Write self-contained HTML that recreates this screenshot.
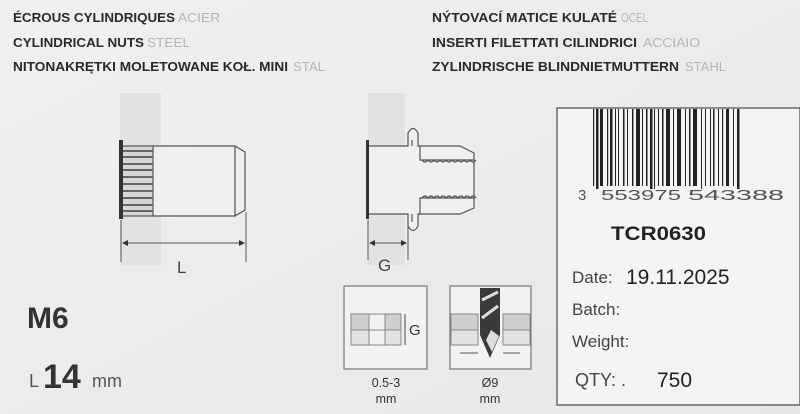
<!DOCTYPE html>
<html><head><meta charset="utf-8"><style>
html,body{margin:0;padding:0;background:#ebebeb;}
svg{display:block}
text{font-family:"Liberation Sans",sans-serif}
</style></head><body>
<svg width="800" height="414" viewBox="0 0 800 414" xmlns="http://www.w3.org/2000/svg">
<defs>
<linearGradient id="bg" x1="0" y1="0" x2="1" y2="1"><stop offset="0" stop-color="#f0f0f0"/><stop offset="1" stop-color="#e7e7e7"/></linearGradient>
</defs>
<rect width="800" height="414" fill="url(#bg)"/>
<g font-weight="bold" font-size="13" fill="#2a2a2a">
<text x="13" y="22" textLength="162" lengthAdjust="spacingAndGlyphs">ÉCROUS CYLINDRIQUES</text>
<text x="13" y="47" textLength="131" lengthAdjust="spacingAndGlyphs">CYLINDRICAL NUTS</text>
<text x="13" y="71" textLength="275" lengthAdjust="spacingAndGlyphs">NITONAKRĘTKI MOLETOWANE KOŁ. MINI</text>
<text x="432" y="22" textLength="185" lengthAdjust="spacingAndGlyphs">NÝTOVACÍ MATICE KULATÉ</text>
<text x="432" y="47" textLength="205" lengthAdjust="spacingAndGlyphs">INSERTI FILETTATI CILINDRICI</text>
<text x="432" y="71" textLength="247" lengthAdjust="spacingAndGlyphs">ZYLINDRISCHE BLINDNIETMUTTERN</text>
</g>
<g font-size="13" fill="#b5b5b5">
<text x="178" y="22" textLength="42" lengthAdjust="spacingAndGlyphs">ACIER</text>
<text x="147" y="47" textLength="43" lengthAdjust="spacingAndGlyphs">STEEL</text>
<text x="293" y="71" textLength="32" lengthAdjust="spacingAndGlyphs">STAL</text>
<text x="621" y="22" textLength="27" lengthAdjust="spacingAndGlyphs">OCEL</text>
<text x="643" y="47" textLength="57" lengthAdjust="spacingAndGlyphs">ACCIAIO</text>
<text x="685" y="71" textLength="41" lengthAdjust="spacingAndGlyphs">STAHL</text>
</g>
<rect x="120" y="93" width="41" height="172" fill="#e2e2e2"/>
<g stroke="#555" fill="none" stroke-width="1.2">
<path d="M153 146 H235 L245 152 V210 L235 216 H153" fill="#efefef"/>
<line x1="235" y1="146" x2="235" y2="216"/>
<rect x="122" y="146" width="31" height="70" fill="#d6d6d6"/>
</g>
<g stroke="#666" stroke-width="2">
<line x1="123" y1="151" x2="153" y2="151"/><line x1="123" y1="157" x2="153" y2="157"/><line x1="123" y1="164" x2="153" y2="164"/><line x1="123" y1="170" x2="153" y2="170"/><line x1="123" y1="177" x2="153" y2="177"/><line x1="123" y1="184" x2="153" y2="184"/><line x1="123" y1="191" x2="153" y2="191"/><line x1="123" y1="198" x2="153" y2="198"/><line x1="123" y1="205" x2="153" y2="205"/><line x1="123" y1="211" x2="153" y2="211"/>
</g>
<rect x="119" y="140" width="4" height="79" fill="#333"/>
<g stroke="#555" stroke-width="1">
<line x1="121" y1="220" x2="121" y2="262"/><line x1="246" y1="212" x2="246" y2="262"/>
<line x1="123" y1="243" x2="244" y2="243"/>
</g>
<path d="M122 243 l6 -3 v6z M245 243 l-6 -3 v6z" fill="#333"/>
<text x="177" y="273" font-size="17" fill="#444">L</text>
<rect x="368" y="93" width="37" height="172" fill="#e2e2e2"/>
<g stroke="#555" fill="none" stroke-width="1.2">
<path d="M368 146 H408 V133 Q413 124 418 133 V146 H460 L474 153 V208 L460 214 H418 V226 Q413 235 408 226 V214 H368" fill="#f0f0f0"/>
<path d="M412 140 V146 M412 214 V222"/>
<path d="M420 146 V160 H474 M420 214 V198 H474"/>
<path d="M422 160 q3 4 6 0 q3 4 6 0 q3 4 6 0 q3 4 6 0 q3 4 6 0 q3 4 6 0 q3 4 6 0 q3 4 6 0 q3 4 6 0"/>
<path d="M422 198 q3 -4 6 0 q3 -4 6 0 q3 -4 6 0 q3 -4 6 0 q3 -4 6 0 q3 -4 6 0 q3 -4 6 0 q3 -4 6 0 q3 -4 6 0"/>
</g>
<rect x="366" y="140" width="3" height="79" fill="#333"/>
<g stroke="#555" stroke-width="1">
<line x1="368" y1="220" x2="368" y2="260"/><line x1="408" y1="226" x2="408" y2="260"/>
<line x1="370" y1="243" x2="406" y2="243"/>
</g>
<path d="M369 243 l6 -3 v6z M407 243 l-6 -3 v6z" fill="#333"/>
<text x="378" y="271" font-size="17" fill="#444">G</text>
<text x="27" y="328" font-size="30" font-weight="bold" fill="#333">M6</text>
<text x="29" y="387" font-size="18" fill="#555">L</text>
<text x="43" y="388" font-size="34" font-weight="bold" fill="#333">14</text>
<text x="92" y="387" font-size="18" fill="#555">mm</text>
<rect x="344" y="286" width="83" height="83" fill="#f2f2f2" stroke="#777" stroke-width="1.2"/>
<g stroke="#888" stroke-width="1">
<rect x="351" y="314" width="18" height="16" fill="#cfcfcf"/><rect x="369" y="314" width="16" height="16" fill="#f2f2f2"/><rect x="385" y="314" width="16" height="16" fill="#cfcfcf"/>
<rect x="351" y="330" width="18" height="15" fill="#e2e2e2"/><rect x="369" y="330" width="16" height="15" fill="#f2f2f2"/><rect x="385" y="330" width="16" height="15" fill="#e2e2e2"/>
<line x1="405" y1="314" x2="405" y2="345" stroke="#444"/>
</g>
<text x="409" y="335" font-size="15" fill="#333">G</text>
<rect x="450" y="286" width="81" height="83" fill="#f2f2f2" stroke="#777" stroke-width="1.2"/>
<g stroke="#888" stroke-width="1">
<rect x="451" y="314" width="27" height="16" fill="#cfcfcf"/><rect x="451" y="330" width="27" height="15" fill="#e2e2e2"/>
<rect x="503" y="314" width="27" height="16" fill="#cfcfcf"/><rect x="503" y="330" width="27" height="15" fill="#e2e2e2"/>
</g>
<path d="M480 288 H500 V335 L490 358 L480 335Z" fill="#3a3a3a"/>
<path d="M482 300 L498 292 M482 318 L498 306" stroke="#ddd" stroke-width="3"/>
<path d="M491 330 L499 336 L492 352 L486 340Z" fill="#ddd"/>
<g stroke="#555" stroke-width="1"><line x1="460" y1="353" x2="478" y2="353"/><line x1="503" y1="353" x2="520" y2="353"/></g>
<text x="386" y="387" font-size="12.5" fill="#333" text-anchor="middle">0.5-3</text>
<text x="386" y="403" font-size="12.5" fill="#333" text-anchor="middle">mm</text>
<text x="490" y="387" font-size="12.5" fill="#333" text-anchor="middle">Ø9</text>
<text x="490" y="403" font-size="12.5" fill="#333" text-anchor="middle">mm</text>
<rect x="557" y="108" width="243" height="297" fill="#f4f4f4" stroke="#555" stroke-width="1.3"/>
<g fill="#222">
<rect x="593" y="109" width="1.2" height="77"/><rect x="596" y="109" width="2.5" height="80"/><rect x="600" y="109" width="3" height="77"/><rect x="607" y="109" width="1.2" height="77"/><rect x="610" y="109" width="2.5" height="77"/>
<rect x="615" y="109" width="1" height="77"/><rect x="618" y="109" width="1" height="77"/><rect x="623" y="109" width="1.5" height="77"/><rect x="627" y="109" width="1" height="77"/><rect x="632" y="109" width="1.5" height="77"/><rect x="636" y="109" width="4" height="77"/><rect x="642" y="109" width="1" height="77"/>
<rect x="646" y="109" width="1.5" height="77"/><rect x="650" y="109" width="2.5" height="80"/><rect x="654" y="109" width="1" height="80"/><rect x="658" y="109" width="1" height="77"/><rect x="662" y="109" width="1.5" height="77"/><rect x="666" y="109" width="4" height="77"/><rect x="673" y="109" width="1" height="77"/>
<rect x="677" y="109" width="4" height="77"/><rect x="685" y="109" width="1" height="77"/><rect x="689" y="109" width="1.5" height="77"/><rect x="693" y="109" width="4" height="77"/><rect x="701" y="109" width="1" height="80"/><rect x="705" y="109" width="1" height="77"/>
<rect x="710" y="109" width="1" height="77"/><rect x="713" y="109" width="1.5" height="77"/><rect x="718" y="109" width="1" height="77"/><rect x="722" y="109" width="1.2" height="77"/><rect x="726" y="109" width="3" height="77"/><rect x="733" y="109" width="1" height="77"/><rect x="737" y="109" width="2.5" height="80"/>
</g>
<text x="578" y="200" font-size="15" fill="#555">3</text>
<text x="601" y="200" font-size="15" fill="#555" textLength="80" lengthAdjust="spacingAndGlyphs">553975</text>
<text x="688" y="200" font-size="15" fill="#555" textLength="96" lengthAdjust="spacingAndGlyphs">543388</text>
<text x="611" y="240" font-size="19" font-weight="bold" fill="#222" textLength="95" lengthAdjust="spacingAndGlyphs">TCR0630</text>
<text x="572" y="283" font-size="17" fill="#444">Date:</text>
<text x="626" y="284" font-size="21" fill="#222">19.11.2025</text>
<text x="572" y="315" font-size="17" fill="#444">Batch:</text>
<text x="572" y="347" font-size="17" fill="#444">Weight:</text>
<text x="575" y="386" font-size="18" fill="#444">QTY: .</text>
<text x="657" y="387" font-size="21" fill="#222">750</text>
</svg>
</body></html>
